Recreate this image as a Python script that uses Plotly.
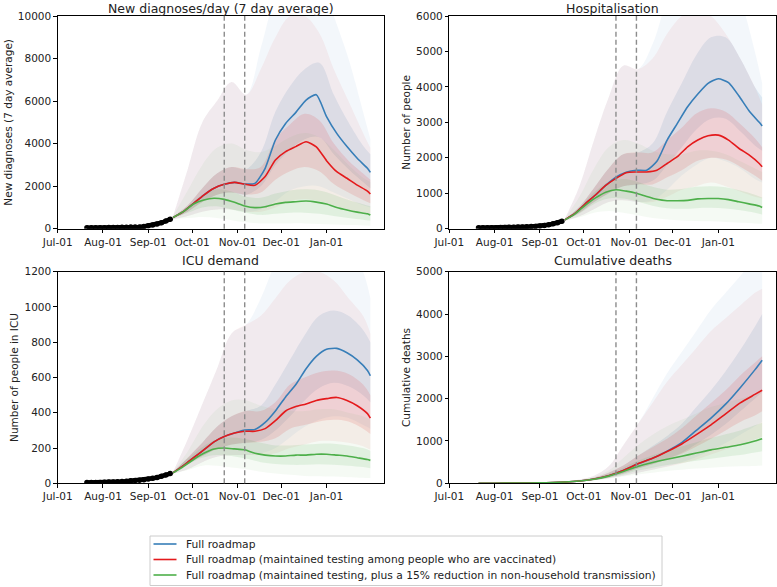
import plotly.graph_objects as go
from plotly.subplots import make_subplots

# ---------------- data ----------------
MED_DATES = ["2021-09-18", "2021-09-25", "2021-10-02", "2021-10-09", "2021-10-16", "2021-10-23",
             "2021-10-30", "2021-11-06", "2021-11-13", "2021-11-20", "2021-11-27", "2021-12-04",
             "2021-12-11", "2021-12-18", "2021-12-25", "2022-01-01", "2022-01-08", "2022-01-15",
             "2022-01-22", "2022-01-29", "2022-01-31"]
BAND_DATES = ["2021-09-18", "2021-09-28", "2021-10-08", "2021-10-18", "2021-10-28", "2021-11-07",
              "2021-11-17", "2021-11-27", "2021-12-07", "2021-12-17", "2021-12-27", "2022-01-06",
              "2022-01-16", "2022-01-26", "2022-01-31"]
OBS_DATES = ["2021-07-21", "2021-07-24", "2021-07-27", "2021-07-30", "2021-08-02", "2021-08-05",
             "2021-08-08", "2021-08-11", "2021-08-14", "2021-08-17", "2021-08-20", "2021-08-23",
             "2021-08-26", "2021-08-29", "2021-09-01", "2021-09-04", "2021-09-07", "2021-09-10",
             "2021-09-13", "2021-09-16"]
DEATH_DATES = ["2021-07-21", "2021-08-01", "2021-08-15", "2021-09-01", "2021-09-10"] + BAND_DATES
VLINE_DATES = ["2021-10-23", "2021-11-06"]
TICK_DATES = ["2021-07-01", "2021-08-01", "2021-09-01", "2021-10-01", "2021-11-01", "2021-12-01", "2022-01-01"]
TICK_LABELS = ["Jul-01", "Aug-01", "Sep-01", "Oct-01", "Nov-01", "Dec-01", "Jan-01"]

SCENARIOS = ["Full roadmap",
             "Full roadmap (maintained testing among people who are vaccinated)",
             "Full roadmap (maintained testing, plus a 15% reduction in non-household transmission)"]
TITLES = ["New diagnoses/day (7 day average)", "Hospitalisation", "ICU demand", "Cumulative deaths"]
YLABELS = ["New diagnoses (7 day average)", "Number of people", "Number of people in ICU", "Cumulative deaths"]

# New diagnoses
DIAG_OBS = [40, 40, 45, 45, 50, 55, 55, 60, 65, 70, 75, 80, 85, 100, 140, 170, 220, 280, 360, 450]
DIAG_BLUE_MED = [530, 800, 1190, 1580, 1900, 2085, 2180, 2100, 2130, 2840, 4170, 4950, 5470, 6050, 6300, 5270, 4480, 3860, 3310, 2840, 2650]
DIAG_RED_MED = [530, 800, 1190, 1580, 1900, 2085, 2180, 2090, 2040, 2450, 3230, 3620, 3860, 4090, 3850, 3200, 2680, 2370, 2050, 1770, 1630]
DIAG_GREEN_MED = [530, 800, 1160, 1350, 1430, 1380, 1240, 1070, 990, 1030, 1160, 1240, 1270, 1300, 1250, 1160, 1000, 880, 780, 700, 640]
DIAG_BLUE_HI = [600, 2800, 5000, 6000, 6900, 6300, 8500, 11000, 12500, 12500, 12000, 10000, 8000, 5500, 4200]
DIAG_BLUE_Q75 = [560, 1100, 1900, 2600, 2900, 2800, 3600, 5500, 6700, 7500, 7800, 6300, 5000, 3900, 3500]
DIAG_BLUE_Q25 = [500, 800, 1250, 1600, 1700, 1600, 2000, 3000, 3700, 4200, 4300, 3500, 2800, 2200, 1900]
DIAG_BLUE_LO = [450, 600, 800, 900, 900, 800, 900, 1300, 1800, 2000, 2000, 1700, 1400, 1100, 1000]
DIAG_RED_HI = [600, 2800, 5000, 6000, 6900, 6300, 7500, 9000, 10000, 10000, 9200, 7500, 6000, 4500, 3800]
DIAG_RED_Q75 = [560, 1100, 1900, 2600, 2900, 2800, 2900, 4200, 4900, 5400, 5100, 4000, 3200, 2600, 2300]
DIAG_RED_Q25 = [500, 800, 1250, 1600, 1700, 1600, 1700, 2300, 2700, 2900, 2700, 2100, 1700, 1350, 1200]
DIAG_RED_LO = [450, 600, 800, 900, 900, 800, 800, 1000, 1300, 1400, 1300, 1100, 900, 700, 650]
DIAG_GREEN_HI = [600, 1800, 3000, 3800, 4000, 3700, 3600, 3900, 4300, 4500, 4300, 3700, 3000, 2400, 2200]
DIAG_GREEN_Q75 = [560, 1000, 1600, 1850, 1750, 1500, 1450, 1650, 1800, 1850, 1800, 1600, 1350, 1150, 1050]
DIAG_GREEN_Q25 = [500, 750, 1000, 1050, 900, 750, 650, 700, 750, 750, 700, 600, 500, 420, 380]
DIAG_GREEN_LO = [450, 500, 550, 500, 400, 300, 250, 250, 250, 250, 220, 200, 170, 150, 140]

# Hospitalisation
HOSP_OBS = [25, 25, 25, 28, 30, 32, 35, 38, 40, 45, 50, 55, 60, 65, 75, 90, 110, 140, 170, 210]
HOSP_BLUE_MED = [250, 430, 700, 950, 1220, 1450, 1590, 1650, 1650, 1900, 2500, 2970, 3440, 3800, 4100, 4230, 4120, 3750, 3330, 3000, 2900]
HOSP_RED_MED = [250, 430, 700, 950, 1220, 1420, 1580, 1600, 1600, 1650, 1840, 2030, 2310, 2500, 2620, 2640, 2500, 2270, 2080, 1840, 1750]
HOSP_GREEN_MED = [250, 420, 660, 870, 1030, 1100, 1060, 1000, 910, 830, 790, 790, 800, 840, 850, 850, 820, 760, 700, 640, 600]
HOSP_BLUE_HI = [280, 1200, 2500, 3700, 4600, 4500, 5200, 6500, 7500, 8000, 8000, 7500, 6500, 5000, 4100]
HOSP_BLUE_Q75 = [265, 620, 1150, 1700, 2100, 2150, 2400, 3300, 4100, 4900, 5400, 5400, 4800, 4000, 3700]
HOSP_BLUE_Q25 = [235, 450, 750, 1000, 1200, 1250, 1350, 1800, 2300, 2800, 3100, 3100, 2750, 2350, 2200]
HOSP_BLUE_LO = [220, 350, 550, 750, 800, 750, 800, 1100, 1500, 1800, 2000, 1900, 1700, 1400, 1300]
HOSP_RED_HI = [280, 1200, 2500, 3700, 4600, 4500, 4800, 5500, 6000, 6200, 6000, 5500, 4800, 4000, 3500]
HOSP_RED_Q75 = [265, 620, 1150, 1700, 2100, 2150, 2150, 2500, 2850, 3250, 3400, 3300, 2950, 2550, 2300]
HOSP_RED_Q25 = [235, 450, 750, 1000, 1200, 1250, 1250, 1450, 1650, 1900, 2000, 1950, 1750, 1500, 1350]
HOSP_RED_LO = [220, 350, 550, 750, 800, 750, 750, 900, 1100, 1200, 1300, 1200, 1050, 900, 850]
HOSP_GREEN_HI = [280, 900, 1700, 2300, 2500, 2400, 2200, 2100, 2100, 2200, 2200, 2100, 1900, 1700, 1600]
HOSP_GREEN_Q75 = [265, 590, 1020, 1320, 1400, 1320, 1180, 1100, 1120, 1180, 1200, 1170, 1080, 960, 880]
HOSP_GREEN_Q25 = [235, 430, 700, 850, 850, 760, 650, 580, 560, 580, 590, 570, 520, 450, 400]
HOSP_GREEN_LO = [220, 320, 450, 500, 450, 380, 300, 260, 230, 220, 210, 190, 170, 150, 140]

# ICU demand
ICU_OBS = [4, 4, 5, 5, 6, 7, 8, 9, 10, 12, 14, 16, 18, 20, 24, 28, 33, 40, 47, 55]
ICU_BLUE_MED = [60, 100, 145, 190, 235, 265, 285, 302, 305, 345, 410, 490, 560, 650, 720, 760, 765, 740, 700, 640, 610]
ICU_RED_MED = [60, 100, 145, 190, 235, 265, 285, 295, 295, 310, 355, 410, 435, 450, 470, 480, 487, 470, 440, 395, 370]
ICU_GREEN_MED = [60, 95, 135, 170, 195, 200, 195, 190, 170, 160, 155, 155, 160, 160, 165, 165, 160, 155, 145, 135, 130]
ICU_BLUE_HI = [65, 250, 450, 650, 850, 900, 1050, 1250, 1400, 1500, 1500, 1450, 1350, 1200, 1050]
ICU_BLUE_Q75 = [63, 145, 230, 320, 380, 410, 440, 560, 700, 840, 950, 980, 950, 870, 800]
ICU_BLUE_Q25 = [57, 110, 155, 195, 220, 230, 245, 300, 380, 470, 540, 570, 550, 500, 460]
ICU_BLUE_LO = [55, 80, 120, 150, 160, 160, 170, 200, 260, 320, 360, 380, 370, 330, 310]
ICU_RED_HI = [65, 250, 450, 650, 850, 900, 950, 1050, 1150, 1200, 1200, 1150, 1050, 950, 850]
ICU_RED_Q75 = [63, 145, 230, 320, 380, 410, 410, 460, 560, 600, 630, 640, 620, 560, 500]
ICU_RED_Q25 = [57, 110, 155, 195, 220, 230, 235, 255, 310, 330, 350, 360, 350, 310, 280]
ICU_RED_LO = [55, 80, 120, 150, 160, 160, 160, 170, 200, 220, 240, 240, 230, 210, 190]
ICU_GREEN_HI = [65, 180, 320, 420, 470, 470, 440, 420, 410, 410, 420, 420, 400, 380, 360]
ICU_GREEN_Q75 = [63, 140, 205, 250, 260, 250, 230, 215, 215, 220, 225, 225, 215, 200, 185]
ICU_GREEN_Q25 = [57, 108, 145, 160, 155, 140, 120, 110, 105, 105, 108, 105, 100, 92, 85]
ICU_GREEN_LO = [55, 75, 100, 100, 90, 80, 65, 55, 48, 42, 40, 38, 35, 32, 30]

# Cumulative deaths
DEATH_BLUE_MED = [0, 2, 5, 10, 18, 30, 55, 100, 180, 300, 460, 590, 760, 960, 1250, 1540, 1870, 2260, 2680, 2910]
DEATH_RED_MED = [0, 2, 5, 10, 18, 30, 55, 100, 180, 300, 460, 590, 750, 930, 1150, 1380, 1640, 1900, 2100, 2200]
DEATH_GREEN_MED = [0, 2, 5, 10, 18, 30, 55, 95, 170, 280, 400, 490, 570, 640, 715, 790, 850, 910, 1000, 1055]
DEATH_BLUE_HI = [40, 90, 180, 400, 900, 1400, 2000, 2600, 3100, 3600, 4100, 4500, 4900, 5300, 5500]
DEATH_BLUE_Q75 = [35, 70, 130, 250, 420, 650, 880, 1120, 1400, 1800, 2200, 2650, 3150, 3700, 4000]
DEATH_BLUE_Q25 = [25, 45, 80, 140, 230, 350, 450, 580, 720, 930, 1150, 1400, 1700, 2000, 2150]
DEATH_BLUE_LO = [20, 40, 75, 120, 180, 250, 320, 400, 500, 620, 780, 950, 1150, 1350, 1450]
DEATH_RED_HI = [40, 90, 180, 400, 900, 1400, 1900, 2400, 2800, 3200, 3600, 3900, 4200, 4500, 4600]
DEATH_RED_Q75 = [35, 70, 130, 250, 420, 650, 850, 1050, 1300, 1600, 1900, 2200, 2550, 2850, 3000]
DEATH_RED_Q25 = [25, 45, 80, 140, 230, 350, 450, 570, 700, 870, 1050, 1250, 1450, 1600, 1700]
DEATH_RED_LO = [20, 40, 75, 120, 180, 250, 320, 390, 470, 560, 680, 800, 920, 1040, 1100]
DEATH_GREEN_HI = [40, 80, 150, 300, 600, 900, 1150, 1350, 1500, 1650, 1800, 1900, 2000, 2100, 2150]
DEATH_GREEN_Q75 = [35, 65, 120, 220, 370, 530, 660, 770, 870, 970, 1070, 1160, 1250, 1370, 1430]
DEATH_GREEN_Q25 = [25, 45, 75, 130, 210, 300, 370, 430, 480, 530, 580, 630, 670, 730, 760]
DEATH_GREEN_LO = [20, 40, 70, 110, 160, 210, 250, 290, 320, 350, 370, 390, 400, 410, 420]

Y_MAX = [10000, 6000, 1200, 5000]
Y_STEP = [2000, 1000, 200, 1000]

# ---------------- styling / layout ----------------
W, H = 777, 587
COLORS = ["#377eb8", "#e41a1c", "#4daf4a"]
RGB = ["55,126,184", "228,26,28", "77,175,74"]
FONT = "DejaVu Sans"
TXT = "#222222"
X_RANGE = ["2021-07-01", "2022-02-09 08:00"]


def px(x):
    return x / W


def py(y):
    return 1 - y / H


X_DOMAINS = [[px(57.7), px(384.0)], [px(449.3), px(775.8)]]
Y_DOMAINS = [[py(228.7), py(16.0)], [py(483.3), py(271.7)]]
TITLE_Y = [8.0, 260.7]

panels = [
    dict(med_dates=MED_DATES, meds=[DIAG_BLUE_MED, DIAG_RED_MED, DIAG_GREEN_MED],
         bands=[(DIAG_BLUE_LO, DIAG_BLUE_Q25, DIAG_BLUE_Q75, DIAG_BLUE_HI),
                (DIAG_RED_LO, DIAG_RED_Q25, DIAG_RED_Q75, DIAG_RED_HI),
                (DIAG_GREEN_LO, DIAG_GREEN_Q25, DIAG_GREEN_Q75, DIAG_GREEN_HI)],
         obs=DIAG_OBS),
    dict(med_dates=MED_DATES, meds=[HOSP_BLUE_MED, HOSP_RED_MED, HOSP_GREEN_MED],
         bands=[(HOSP_BLUE_LO, HOSP_BLUE_Q25, HOSP_BLUE_Q75, HOSP_BLUE_HI),
                (HOSP_RED_LO, HOSP_RED_Q25, HOSP_RED_Q75, HOSP_RED_HI),
                (HOSP_GREEN_LO, HOSP_GREEN_Q25, HOSP_GREEN_Q75, HOSP_GREEN_HI)],
         obs=HOSP_OBS),
    dict(med_dates=MED_DATES, meds=[ICU_BLUE_MED, ICU_RED_MED, ICU_GREEN_MED],
         bands=[(ICU_BLUE_LO, ICU_BLUE_Q25, ICU_BLUE_Q75, ICU_BLUE_HI),
                (ICU_RED_LO, ICU_RED_Q25, ICU_RED_Q75, ICU_RED_HI),
                (ICU_GREEN_LO, ICU_GREEN_Q25, ICU_GREEN_Q75, ICU_GREEN_HI)],
         obs=ICU_OBS),
    dict(med_dates=DEATH_DATES, meds=[DEATH_BLUE_MED, DEATH_RED_MED, DEATH_GREEN_MED],
         bands=[(DEATH_BLUE_LO, DEATH_BLUE_Q25, DEATH_BLUE_Q75, DEATH_BLUE_HI),
                (DEATH_RED_LO, DEATH_RED_Q25, DEATH_RED_Q75, DEATH_RED_HI),
                (DEATH_GREEN_LO, DEATH_GREEN_Q25, DEATH_GREEN_Q75, DEATH_GREEN_HI)],
         obs=None),
]

fig = make_subplots(rows=2, cols=2)


def band(fig, r, c, lo, hi, rgb, alpha):
    fig.add_trace(go.Scatter(x=BAND_DATES, y=lo, mode="lines", line=dict(width=0, shape="spline"),
                             showlegend=False, hoverinfo="skip"), row=r, col=c)
    fig.add_trace(go.Scatter(x=BAND_DATES, y=hi, mode="lines", line=dict(width=0, shape="spline"),
                             fill="tonexty", fillcolor=f"rgba({rgb},{alpha})",
                             showlegend=False, hoverinfo="skip"), row=r, col=c)


for i, p in enumerate(panels):
    r, c = i // 2 + 1, i % 2 + 1
    for s in range(3):
        lo, q25, q75, hi = p["bands"][s]
        band(fig, r, c, lo, hi, RGB[s], 0.06)
        band(fig, r, c, q25, q75, RGB[s], 0.12)
    if p["obs"] is not None:
        fig.add_trace(go.Scatter(x=OBS_DATES, y=p["obs"], mode="lines+markers",
                                 line=dict(color="black", width=4.5),
                                 marker=dict(color="black", size=5.5),
                                 showlegend=False, hoverinfo="skip"), row=r, col=c)
    for s in range(3):
        fig.add_trace(go.Scatter(x=p["med_dates"], y=p["meds"][s], mode="lines", name=SCENARIOS[s],
                                 line=dict(color=COLORS[s], width=1.6, shape="spline", smoothing=0.6),
                                 showlegend=False), row=r, col=c)

    ax = "" if i == 0 else str(i + 1)
    fig.update_xaxes(row=r, col=c, domain=X_DOMAINS[c - 1], range=X_RANGE, type="date",
                     tickvals=TICK_DATES, ticktext=TICK_LABELS, ticks="outside", ticklen=3.5,
                     tickwidth=0.8, tickcolor="black", showline=True, linecolor="black", linewidth=0.8,
                     mirror=True, showgrid=False, zeroline=False, automargin=False,
                     tickfont=dict(family=FONT, size=10.5, color=TXT))
    fig.update_yaxes(row=r, col=c, domain=Y_DOMAINS[r - 1], range=[0, Y_MAX[i]],
                     tickmode="linear", tick0=0, dtick=Y_STEP[i], tickformat="d",
                     ticks="outside", ticklen=3.5,
                     tickwidth=0.8, tickcolor="black", showline=True, linecolor="black", linewidth=0.8,
                     mirror=True, showgrid=False, zeroline=False, automargin=False,
                     tickfont=dict(family=FONT, size=10.5, color=TXT),
                     title=dict(text=YLABELS[i], font=dict(family=FONT, size=10.5, color=TXT), standoff=3))
    for vd in VLINE_DATES:
        fig.add_shape(type="line", xref="x" + ax, yref="y" + ax + " domain", x0=vd, x1=vd, y0=0, y1=1,
                      line=dict(color="#8c8c8c", width=1.4, dash="5px,3px"), layer="above")
    xd = X_DOMAINS[c - 1]
    fig.add_annotation(text=TITLES[i], xref="paper", yref="paper", x=(xd[0] + xd[1]) / 2,
                       y=py(TITLE_Y[r - 1]), xanchor="center", yanchor="middle", showarrow=False,
                       font=dict(family=FONT, size=12.5, color=TXT))

# ---------------- legend (drawn as a framed key) ----------------
LEG_ROWS = [544.0, 559.5, 575.0]
fig.add_shape(type="rect", xref="paper", yref="paper", x0=px(150), x1=px(662), y0=py(585.5), y1=py(536),
              line=dict(color="#cccccc", width=1), fillcolor="white", layer="above")
for s in range(3):
    fig.add_shape(type="line", xref="paper", yref="paper", x0=px(153.5), x1=px(176.5),
                  y0=py(LEG_ROWS[s]), y1=py(LEG_ROWS[s]), line=dict(color=COLORS[s], width=1.6), layer="above")
    fig.add_annotation(text=SCENARIOS[s], xref="paper", yref="paper", x=px(184), y=py(LEG_ROWS[s]),
                       xanchor="left", yanchor="middle", showarrow=False,
                       font=dict(family=FONT, size=10.7, color=TXT))

fig.update_layout(
    width=W, height=H, margin=dict(l=0, r=0, t=0, b=0),
    paper_bgcolor="white", plot_bgcolor="white",
    font=dict(family=FONT, size=10, color=TXT),
    showlegend=False,
)

fig.write_html("out.html", config={"displayModeBar": False},
               post_script="document.body.style.margin='0';document.body.style.overflow='hidden';")
